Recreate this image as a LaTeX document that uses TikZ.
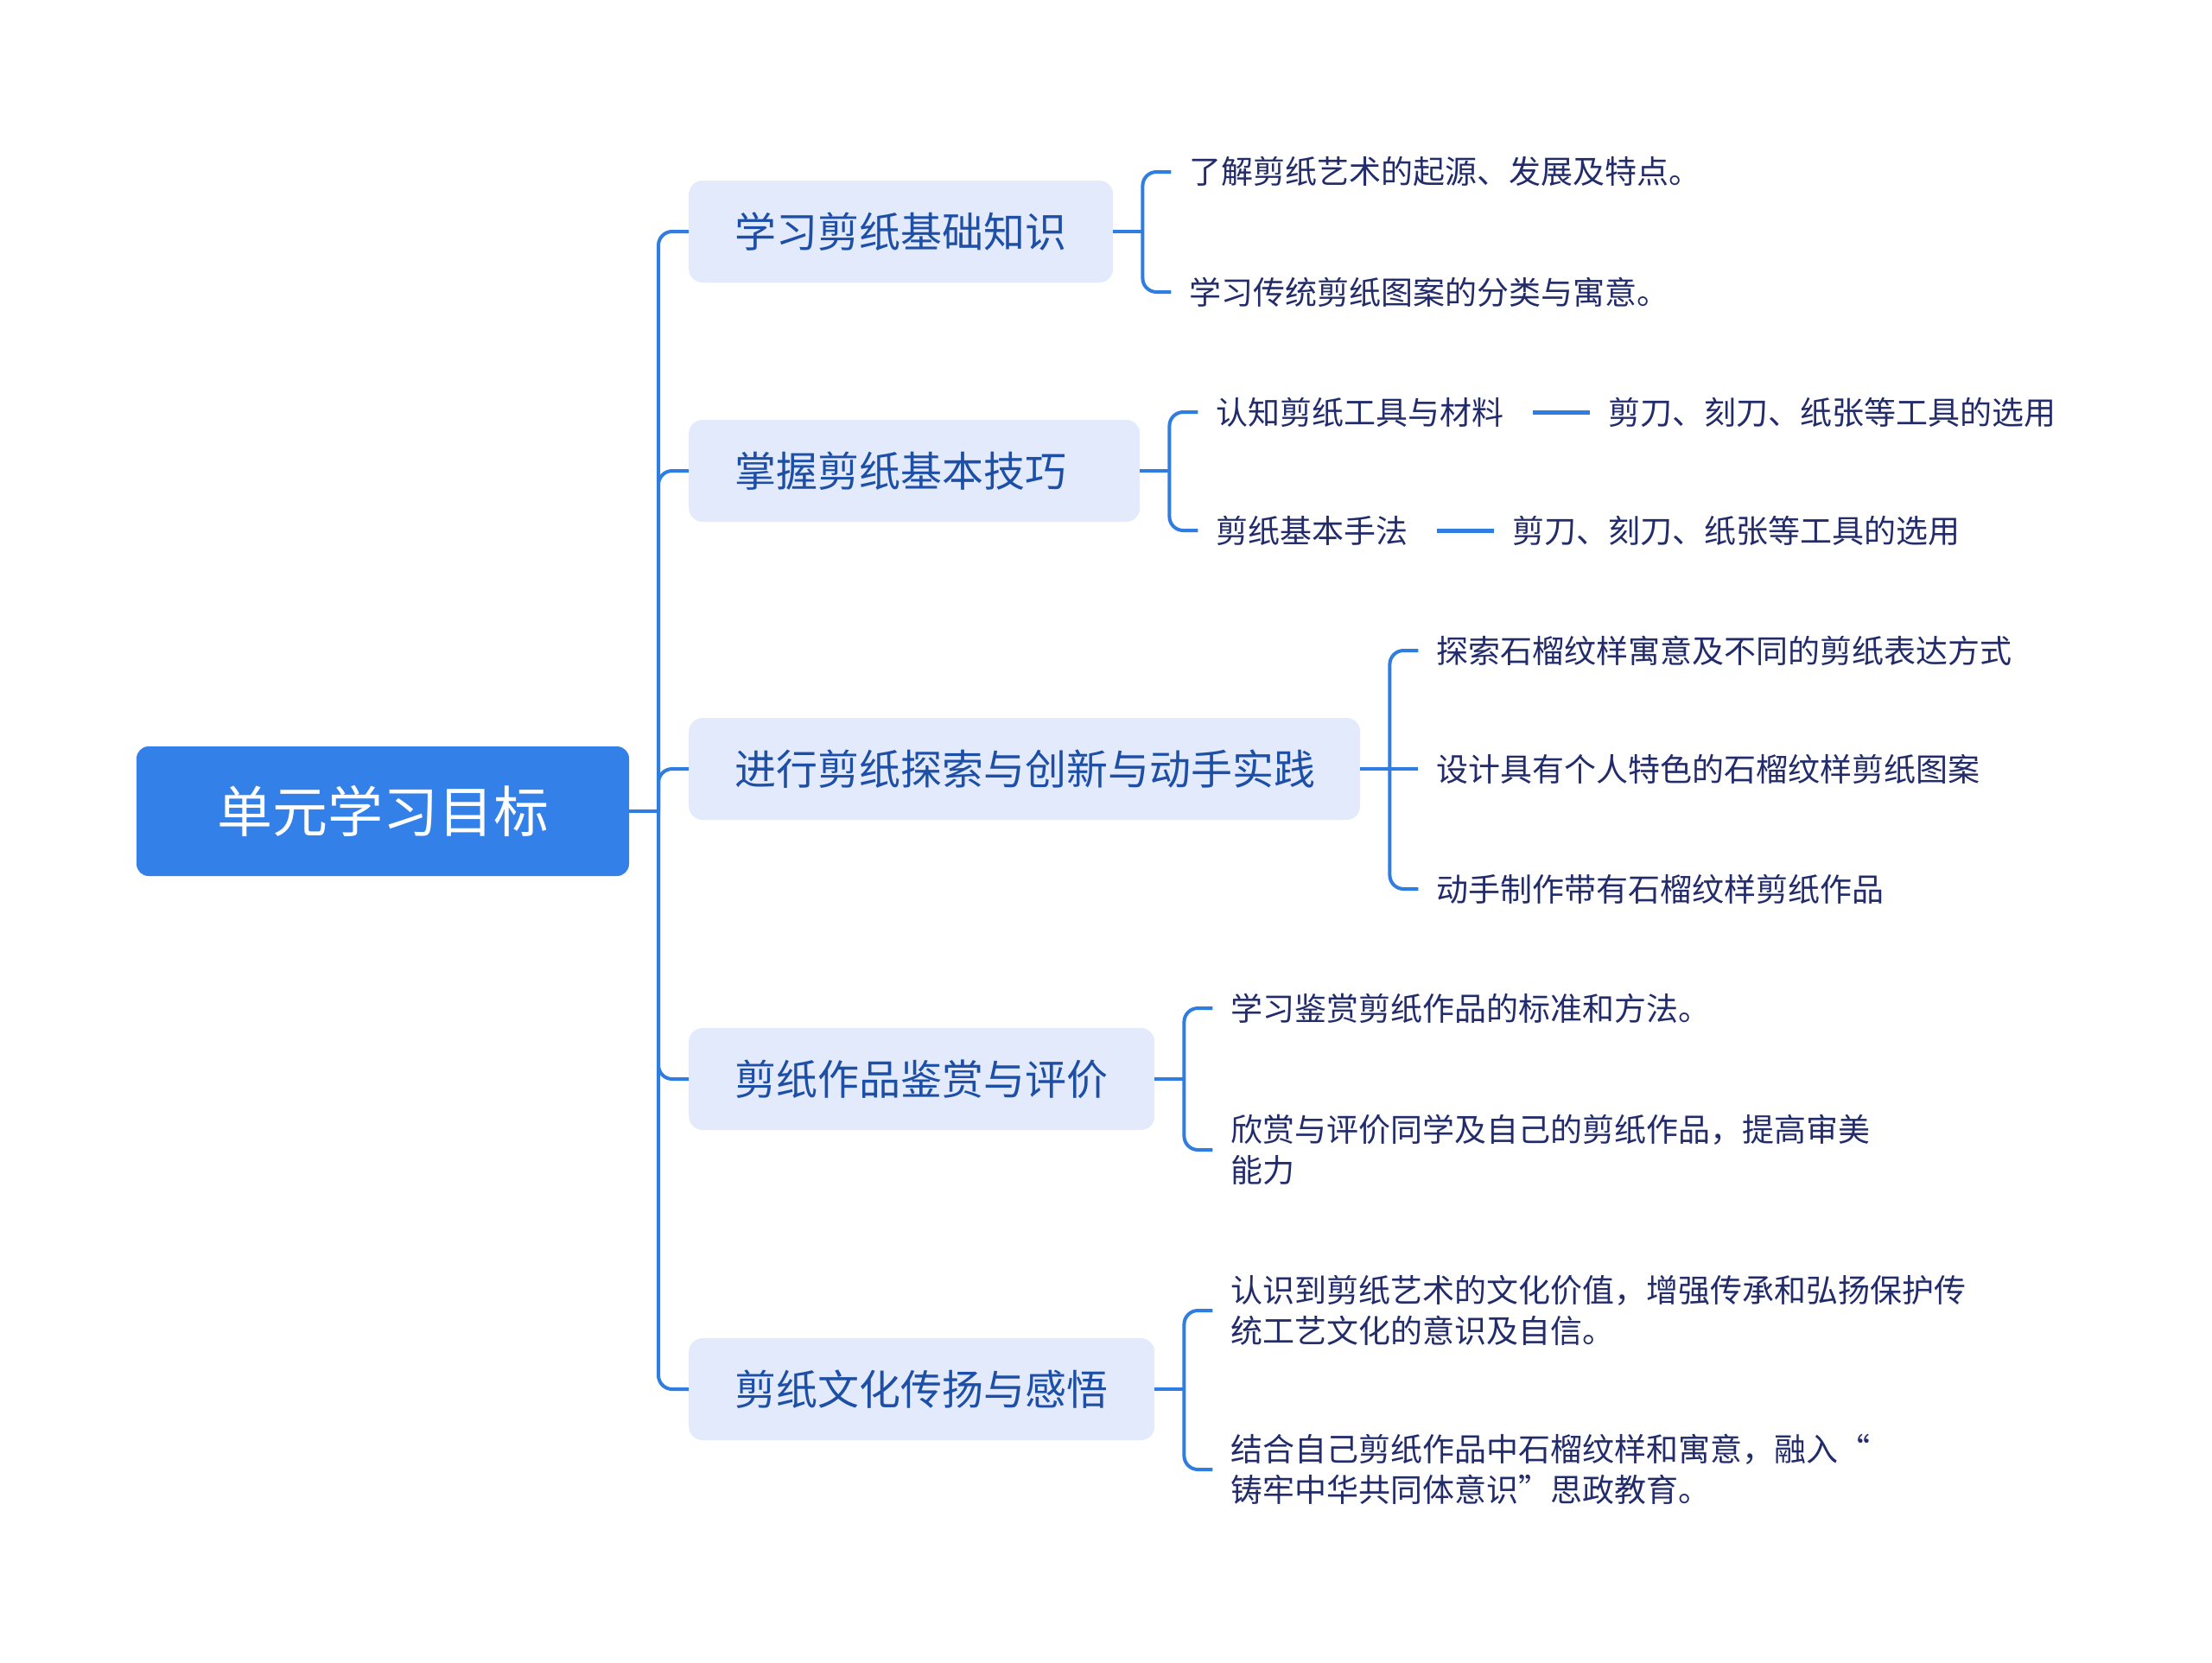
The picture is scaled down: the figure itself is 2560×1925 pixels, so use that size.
\documentclass[tikz,border=0pt]{standalone}
\usepackage{fontspec}
\newfontfamily\cjk{Noto Sans CJK SC}
\definecolor{linec}{HTML}{2F7DE1}
\definecolor{rootc}{HTML}{3380E8}
\definecolor{boxc}{HTML}{E2EAFB}
\definecolor{boxt}{HTML}{1E4FA6}
\definecolor{leaft}{HTML}{232C6A}
\tikzset{
  rootbox/.style={fill=rootc, rounded corners=14pt, minimum width=570pt, minimum height=150pt,
    inner sep=0pt, text=white, font=\cjk\fontsize{64}{72}\selectfont},
  midbox/.style={fill=boxc, rounded corners=16pt, minimum height=118pt, inner ysep=0pt,
    inner xsep=53pt, align=left, text=boxt, font=\cjk\fontsize{48}{56}\selectfont, anchor=west},
  leaf/.style={inner xsep=21pt, inner ysep=4pt, align=left, text=leaft,
    font=\cjk\fontsize{37}{47}\selectfont, anchor=west},
  conn/.style={draw=linec, line width=4pt},
  rconn/.style={conn, rounded corners=16pt},
  dashc/.style={draw=linec, line width=5pt, shorten <=12pt}
}
\begin{document}
\begin{tikzpicture}[x=1pt,y=-1pt]
\useasboundingbox[fill=white] (0,0) rectangle (2560,1925);

% root
\node[rootbox] (root) at (443,939) {单元学习目标};
\coordinate (t) at (762,939);

% mid boxes
\node[midbox, text width=385pt] (c1) at (797,268) {学习剪纸基础知识};
\node[midbox, text width=416pt] (c2) at (797,545) {掌握剪纸基本技巧};
\node[midbox, text width=671pt] (c3) at (797,890) {进行剪纸探索与创新与动手实践};
\node[midbox, text width=433pt] (c4) at (797,1249) {剪纸作品鉴赏与评价};
\node[midbox, text width=433pt] (c5) at (797,1608) {剪纸文化传扬与感悟};

% trunk
\draw[conn] (root.east) -- (t);
\foreach \c in {c1,c2,c3,c4,c5}{ \draw[rconn] (t) |- (\c.west); }

% group 1
\coordinate (b1) at ([xshift=34pt]c1.east);
\node[leaf] (l11) at ([xshift=67pt]c1.east |- 0,199) {了解剪纸艺术的起源、发展及特点。};
\node[leaf] (l12) at ([xshift=67pt]c1.east |- 0,338) {学习传统剪纸图案的分类与寓意。};
\draw[conn] (c1.east) -- (b1);
\draw[rconn] (b1) |- (l11.west);
\draw[rconn] (b1) |- (l12.west);

% group 2
\coordinate (b2) at ([xshift=34pt]c2.east);
\node[leaf] (l21) at ([xshift=67pt]c2.east |- 0,477) {认知剪纸工具与材料};
\node[leaf] (l22) at ([xshift=67pt]c2.east |- 0,614) {剪纸基本手法};
\node[leaf] (l21b) at ([xshift=78pt]l21.east) {剪刀、刻刀、纸张等工具的选用};
\node[leaf] (l22b) at ([xshift=78pt]l22.east) {剪刀、刻刀、纸张等工具的选用};
\draw[conn] (c2.east) -- (b2);
\draw[rconn] (b2) |- (l21.west);
\draw[rconn] (b2) |- (l22.west);
\draw[dashc] (l21.east) -- (l21b.west);
\draw[dashc] (l22.east) -- (l22b.west);

% group 3
\coordinate (b3) at ([xshift=34pt]c3.east);
\node[leaf] (l31) at ([xshift=67pt]c3.east |- 0,753) {探索石榴纹样寓意及不同的剪纸表达方式};
\node[leaf] (l32) at ([xshift=67pt]c3.east |- 0,890) {设计具有个人特色的石榴纹样剪纸图案};
\node[leaf] (l33) at ([xshift=67pt]c3.east |- 0,1029) {动手制作带有石榴纹样剪纸作品};
\draw[conn] (c3.east) -- (l32.west);
\draw[rconn] (b3) |- (l31.west);
\draw[rconn] (b3) |- (l33.west);

% group 4
\coordinate (b4) at ([xshift=34pt]c4.east);
\node[leaf] (l41) at ([xshift=67pt]c4.east |- 0,1167) {学习鉴赏剪纸作品的标准和方法。};
\node[leaf] (l42) at ([xshift=67pt]c4.east |- 0,1331) {欣赏与评价同学及自己的剪纸作品，提高审美\\能力};
\draw[conn] (c4.east) -- (b4);
\draw[rconn] (b4) |- (l41.west);
\draw[rconn] (b4) |- (l42.west);

% group 5
\coordinate (b5) at ([xshift=34pt]c5.east);
\node[leaf] (l51) at ([xshift=67pt]c5.east |- 0,1517) {认识到剪纸艺术的文化价值，增强传承和弘扬保护传\\统工艺文化的意识及自信。};
\node[leaf] (l52) at ([xshift=67pt]c5.east |- 0,1701) {结合自己剪纸作品中石榴纹样和寓意，融入“\\铸牢中华共同体意识”思政教育。};
\draw[conn] (c5.east) -- (b5);
\draw[rconn] (b5) |- (l51.west);
\draw[rconn] (b5) |- (l52.west);
\end{tikzpicture}
\end{document}
